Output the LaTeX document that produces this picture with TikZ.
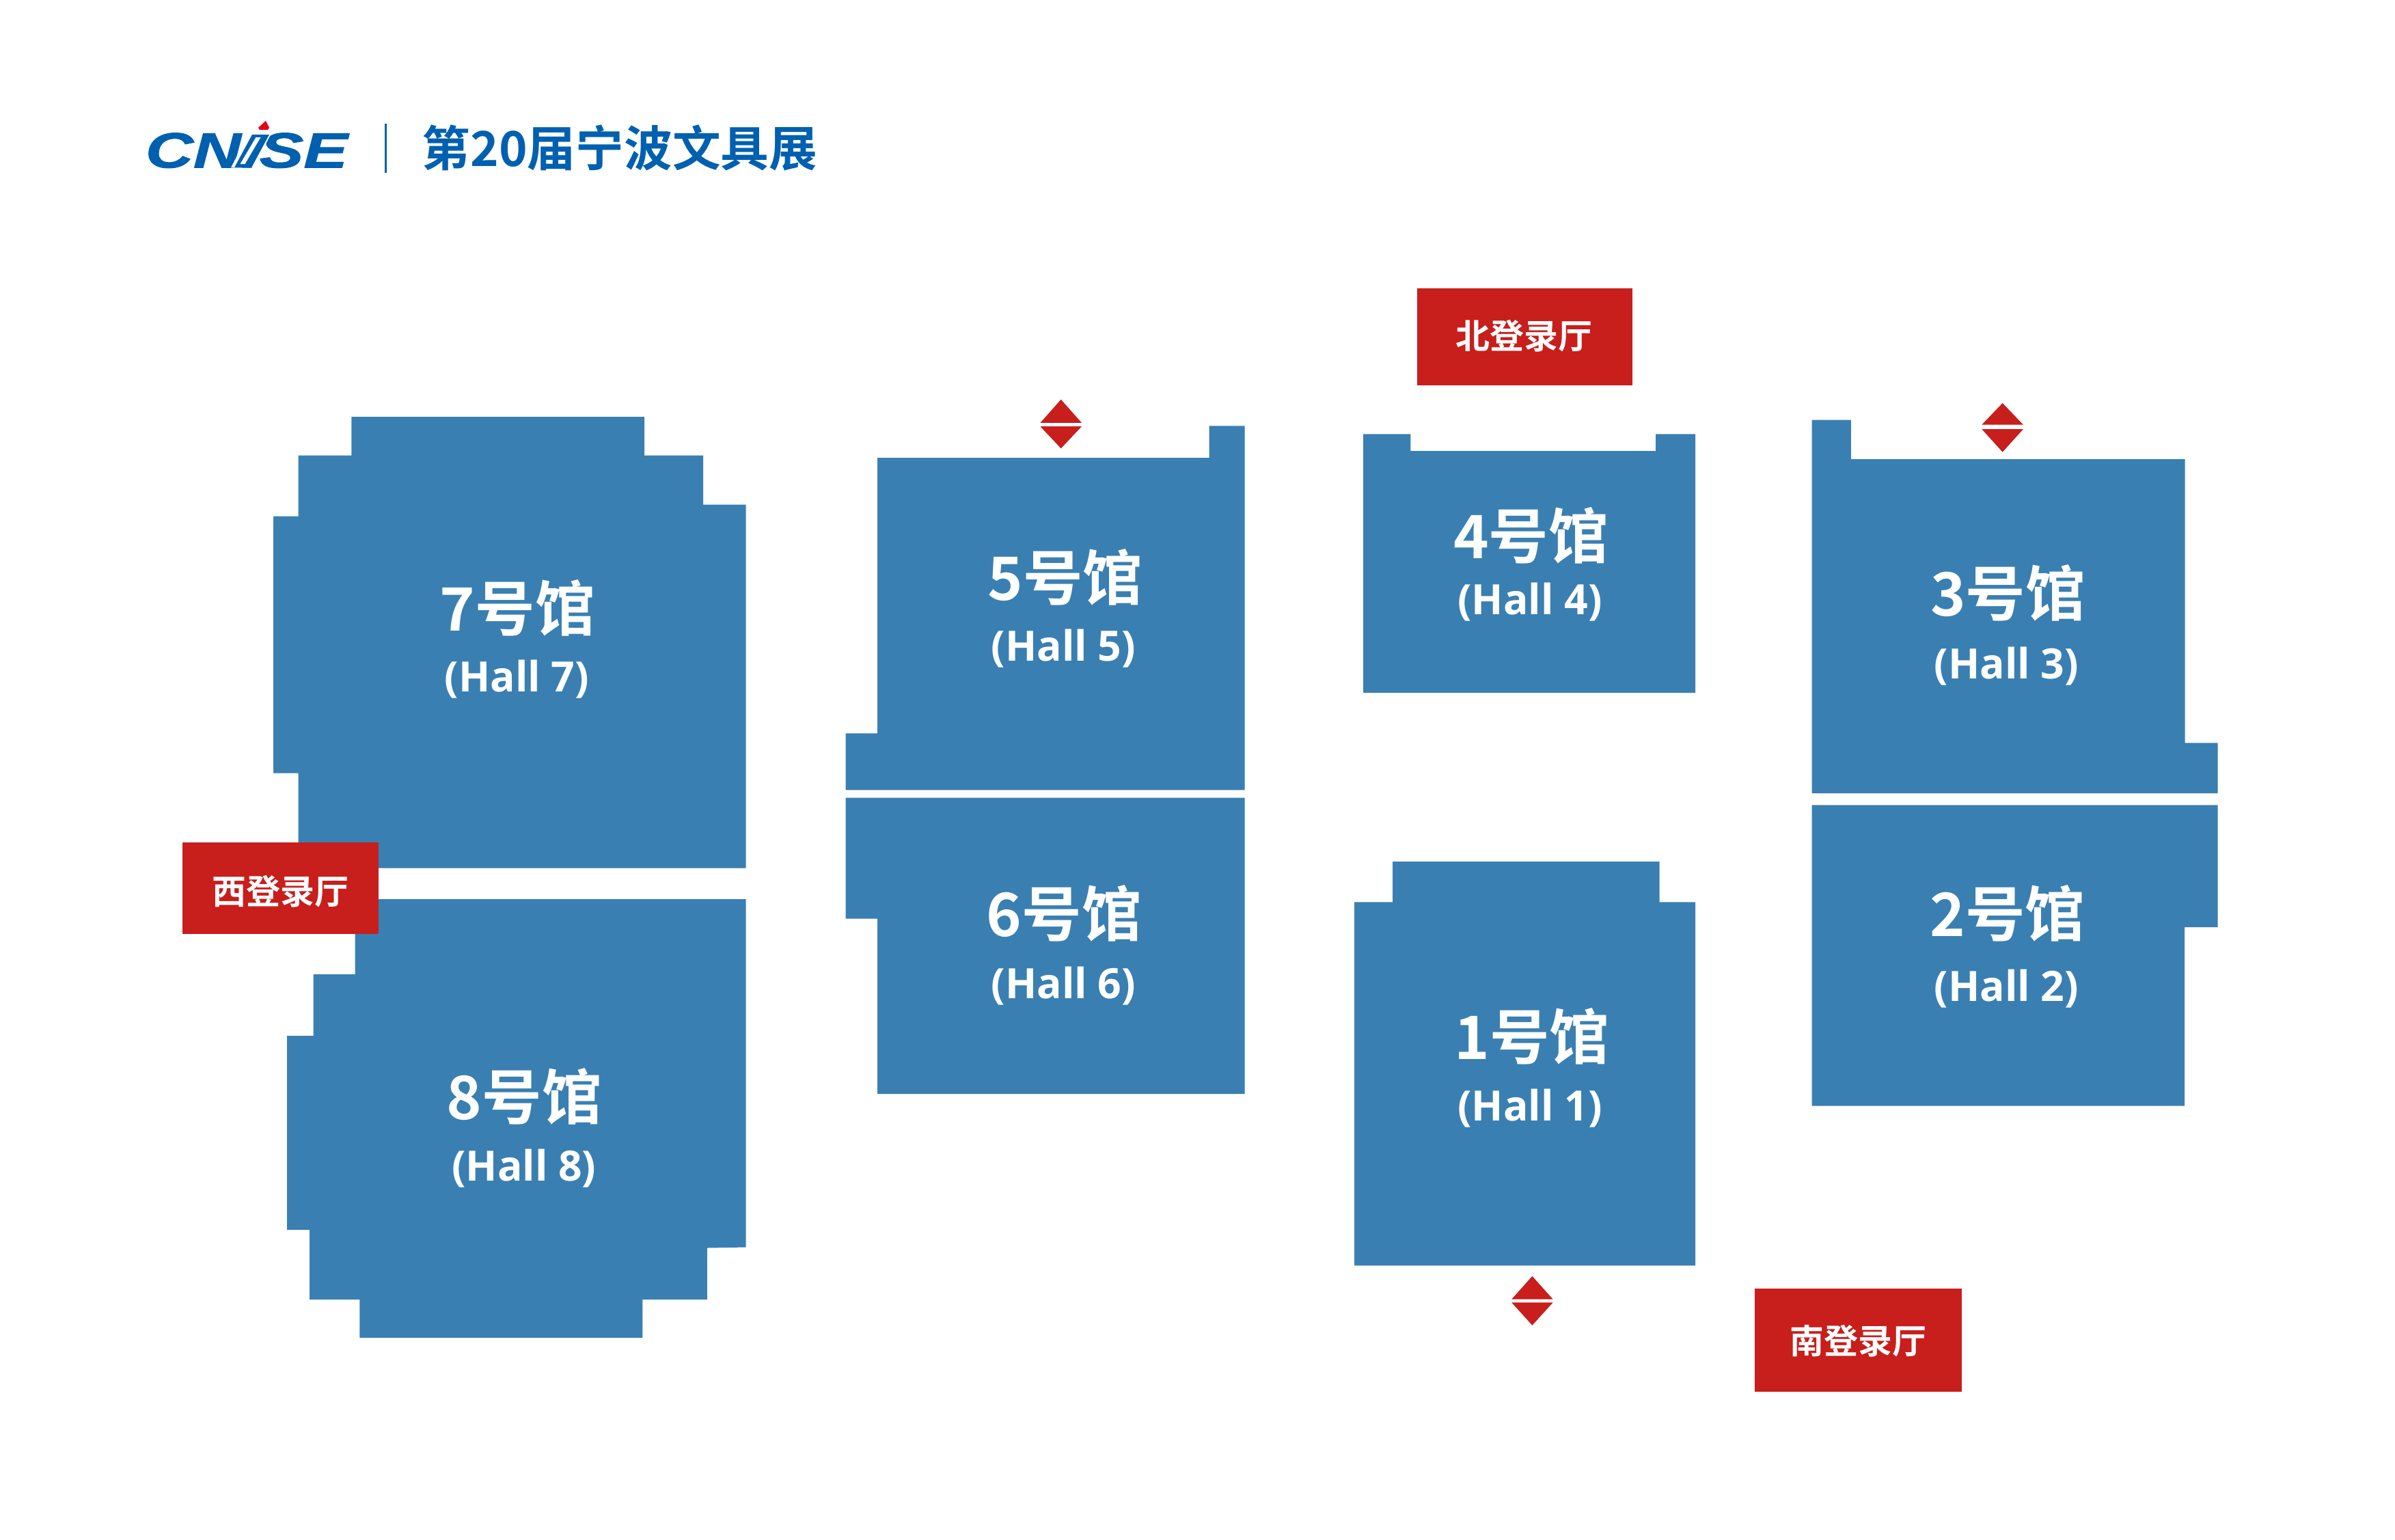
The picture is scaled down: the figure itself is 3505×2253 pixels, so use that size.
\documentclass[tikz,border=0pt]{standalone}
\usepackage{fontspec}
\setmainfont{Noto Sans CJK SC}
\newfontfamily\cjkb{Noto Sans CJK SC Bold}
\newfontfamily\subf{Open Sans Bold}
\newfontfamily\logofont{Liberation Sans Bold Italic}[FakeBold=1.2]
\definecolor{hallblue}{HTML}{3A7FB2}
\definecolor{regred}{HTML}{C81E1C}
\definecolor{logoblue}{HTML}{0060B0}
\definecolor{dropred}{HTML}{E2001A}
\tikzset{
  hallshape/.style={fill=hallblue,draw=none},
  hallname/.style={text=white,font=\cjkb\fontsize{24.9}{25}\selectfont,inner sep=0pt,anchor=base,yshift=-0.02cm},
  hallsub/.style={text=white,font=\subf\fontsize{17.4}{18}\selectfont,inner sep=0pt,anchor=base,yshift=-0.02cm,xscale=0.99},
  regbox/.style={fill=regred,draw=none},
  reglabel/.style={text=white,font=\cjkb\fontsize{14.2}{14.2}\selectfont,inner sep=0pt,anchor=base},
  gatemark/.style={fill=regred,draw=none},
}
\newcommand{\gatemk}[5]{%
  \fill[gatemark] (#1-30.2,#3)--(#1,#2)--(#1+30.2,#3)--cycle;
  \fill[gatemark] (#1-30.2,#4)--(#1,#5)--(#1+30.2,#4)--cycle;
}
\begin{document}
\begin{tikzpicture}[x=0.01cm,y=-0.01cm]
\useasboundingbox (0,0) rectangle (3505,2253);
\fill[white] (0,0) rectangle (3505,2253);
% Hall 7
\fill[hallshape] (514.3,610)--(943.2,610)--(943.2,666.7)--(1029,666.7)--(1029,738.5)--(1091.5,738.5)--(1091.5,1270.5)--(436.7,1270.5)--(436.7,1131.5)--(400,1131.5)--(400,755.5)--(436.7,755.5)--(436.7,666.7)--(514.3,666.7)--cycle;
% Hall 8
\fill[hallshape] (519.6,1316)--(1091.5,1316)--(1091.5,1825.5)--(1034.8,1826.5)--(1034.8,1902)--(940.3,1902)--(940.3,1958)--(526.4,1958)--(526.4,1902)--(453.2,1902)--(453.2,1800)--(420.2,1800)--(420.2,1516)--(458.5,1516)--(458.5,1426)--(519.6,1426)--cycle;
% Hall 5
\fill[hallshape] (1284.2,670.2)--(1769.5,670.2)--(1769.5,623.4)--(1821.7,623.4)--(1821.7,1156.4)--(1237.5,1156.4)--(1237.5,1073.3)--(1284.2,1073.3)--cycle;
% Hall 6
\fill[hallshape] (1237.5,1167.7)--(1821.7,1167.7)--(1821.7,1601)--(1284.2,1601)--(1284.2,1344.5)--(1237.5,1344.5)--cycle;
% Hall 4
\fill[hallshape] (1995.1,635.4)--(2064.3,635.4)--(2064.3,660.2)--(2423.1,660.2)--(2423.1,635.4)--(2481.2,635.4)--(2481.2,1014.2)--(1995.1,1014.2)--cycle;
% Hall 1
\fill[hallshape] (2038,1261.1)--(2428.5,1261.1)--(2428.5,1320.4)--(2481.2,1320.4)--(2481.2,1852.4)--(1982.2,1852.4)--(1982.2,1320.4)--(2038,1320.4)--cycle;
% Hall 3
\fill[hallshape] (2651.6,614.6)--(2708.8,614.6)--(2708.8,672.2)--(3197.5,672.2)--(3197.5,1087.3)--(3245.5,1087.3)--(3245.5,1161)--(2651.6,1161)--cycle;
% Hall 2
\fill[hallshape] (2651.6,1178.4)--(3245.5,1178.4)--(3245.5,1357.2)--(3197,1357.2)--(3197,1618.5)--(2651.6,1618.5)--cycle;
% Registration boxes
\fill[regbox] (2073.9,421.5) rectangle (2389,564.2);
\fill[regbox] (267,1232.7) rectangle (553.5,1366.9);
\fill[regbox] (2568.1,1886.3) rectangle (2871.2,2036.6);
% Gate marks
\gatemk{1552.7}{584.7}{618.8}{624.2}{656.3}
\gatemk{2930.6}{590}{621.5}{628.2}{661.6}
\gatemk{2242.4}{1867.8}{1901.6}{1906.4}{1939.7}
% Hall labels
\node[hallname] (h7) at (757.3,921.5) {7号馆};
\node[hallsub] (h7s) at (756.4,1010.8) {(Hall 7)};
\node[hallname] (h8) at (767.3,1636) {8号馆};
\node[hallsub] (h8s) at (766.8,1726.9) {(Hall 8)};
\node[hallname] (h5) at (1558.8,876) {5号馆};
\node[hallsub] (h5s) at (1556.3,965.7) {(Hall 5)};
\node[hallname] (h6) at (1557.3,1368) {6号馆};
\node[hallsub] (h6s) at (1556.3,1459) {(Hall 6)};
\node[hallname] (h4) at (2240.5,815.2) {4号馆};
\node[hallsub] (h4s) at (2239,897.9) {(Hall 4)};
\node[hallname] (h1) at (2242,1548.2) {1号馆};
\node[hallsub] (h1s) at (2239,1638.6) {(Hall 1)};
\node[hallname] (h3) at (2938.5,899.4) {3号馆};
\node[hallsub] (h3s) at (2936.4,991.8) {(Hall 3)};
\node[hallname] (h2) at (2938,1368) {2号馆};
\node[hallsub] (h2s) at (2936.4,1463.2) {(Hall 2)};
% Registration labels
\node[reglabel] (rn) at (2230.7,510) {北登录厅};
\node[reglabel] (rw) at (410.3,1323.7) {西登录厅};
\node[reglabel] (rs) at (2719.3,1981) {南登录厅};
% Header
\node[text=logoblue,font=\cjkb\fontsize{20.1}{20.1}\selectfont,inner sep=0pt,anchor=base] (title) at (907,243) {第20届宁波文具展};
\draw[logoblue,line width=1pt] (564.4,181)--(564.4,252.7);
\node[text=logoblue,font=\logofont\fontsize{20.7}{21}\selectfont,inner sep=0pt,anchor=base,xscale=1.33] (logo) at (361,245.3) {CNISE};
% hollow I of the logo
\fill[white] (338,245.3)--(371,245.3)--(398,193.3)--(365,193.3)--cycle;
\fill[logoblue] (343,245.3)--(368,245.3)--(394,197)--(369,197)--cycle;
\fill[white] (351.5,240)--(358.5,240)--(381.5,201)--(374.5,201)--cycle;
\fill[dropred] (389,176.7)--(394,187)--(392,190)--(380,190)--(378,187)--cycle;
\end{tikzpicture}
\end{document}
